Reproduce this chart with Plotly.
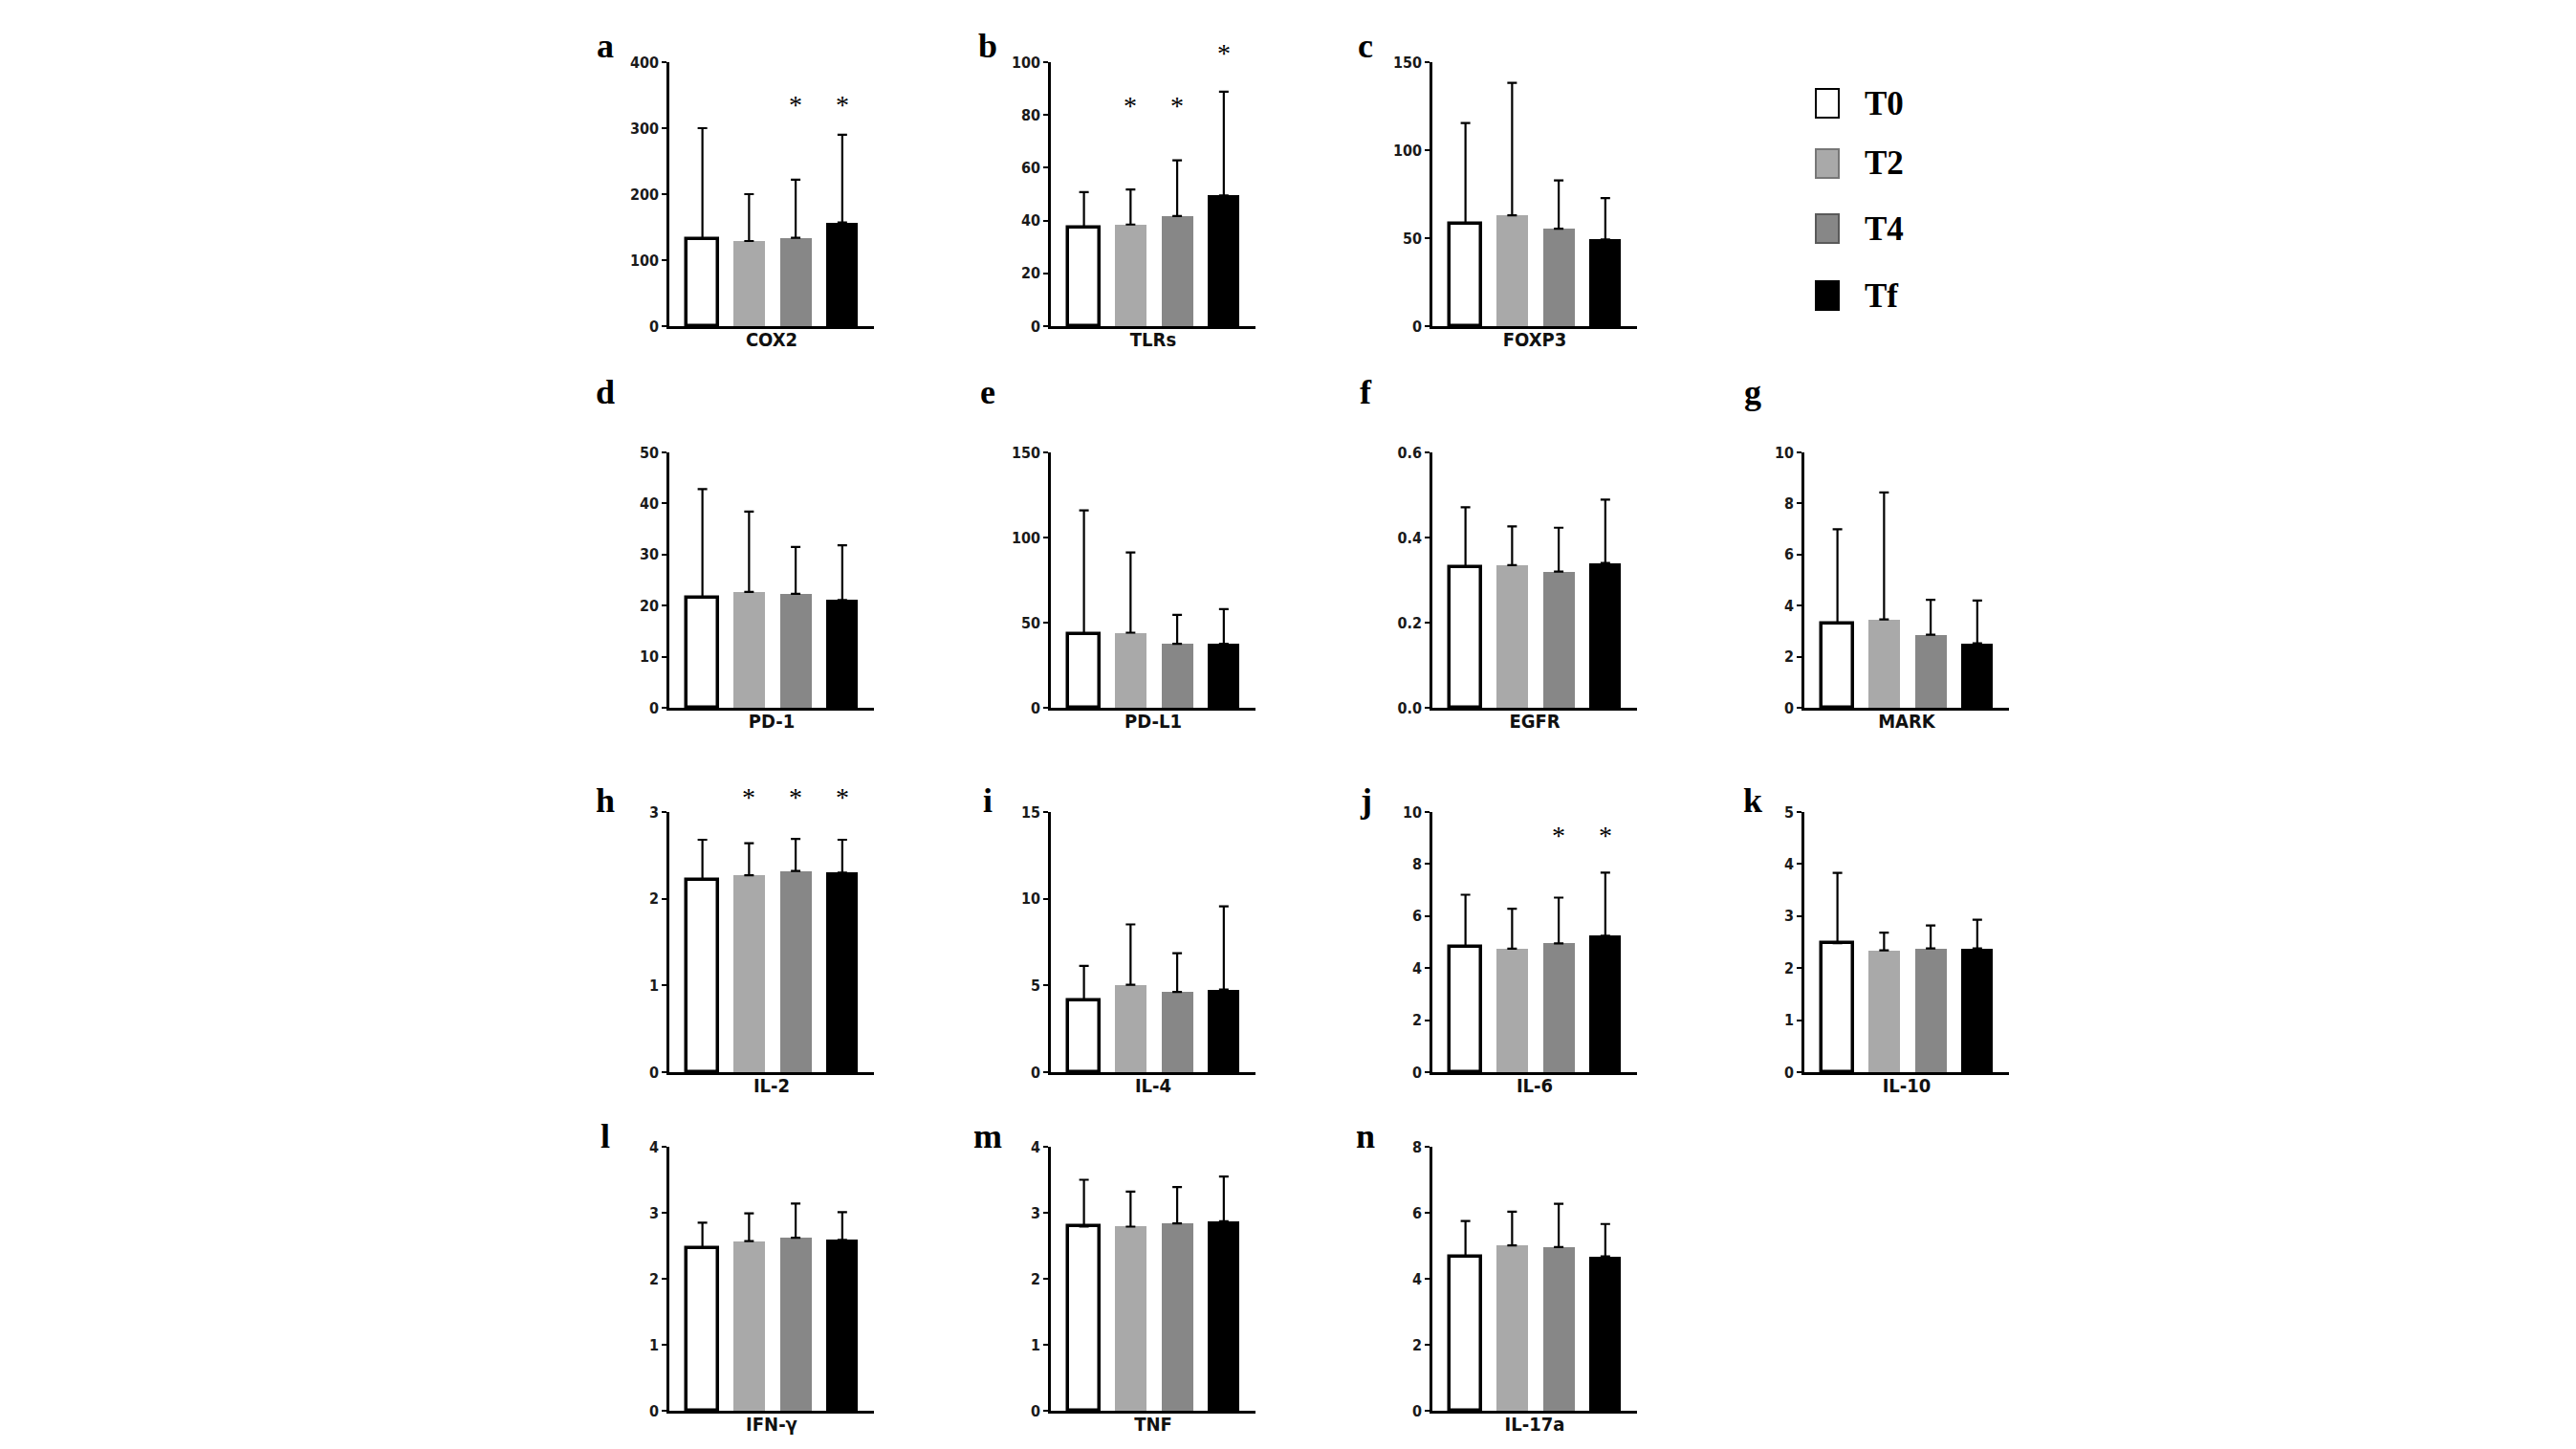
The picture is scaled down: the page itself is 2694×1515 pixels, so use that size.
import plotly.graph_objects as go
import plotly.subplots as ps

# grupos de tempo
tempos = ['T0', 'T2', 'T4', 'Tf']
cores = ['#ffffff', '#a9a9a9', '#878787', '#000000']

# nomes dos marcadores e letras dos painéis
marcadores = ['COX2', 'TLRs', 'FOXP3', 'PD-1', 'PD-L1', 'EGFR', 'MARK',
              'IL-2', 'IL-4', 'IL-6', 'IL-10', 'IFN-γ', 'TNF', 'IL-17a']
letras = ['a', 'b', 'c', 'd', 'e', 'f', 'g', 'h', 'i', 'j', 'k', 'l', 'm', 'n']

# médias
media_cox2 = [132, 129, 134, 157]
media_tlrs = [37.5, 38.5, 41.7, 49.5]
media_foxp3 = [58.2, 63.0, 55.4, 49.2]
media_pd1 = [21.6, 22.7, 22.3, 21.1]
media_pdl1 = [43.4, 44.1, 37.6, 37.6]
media_egfr = [0.331, 0.335, 0.320, 0.340]
media_mark = [3.31, 3.46, 2.86, 2.52]
media_il2 = [2.22, 2.27, 2.32, 2.30]
media_il4 = [4.15, 5.04, 4.63, 4.76]
media_il6 = [4.82, 4.75, 4.95, 5.24]
media_il10 = [2.48, 2.34, 2.38, 2.38]
media_ifng = [2.47, 2.57, 2.62, 2.59]
media_tnf = [2.79, 2.79, 2.84, 2.87]
media_il17a = [4.68, 5.01, 4.96, 4.68]

# desvio padrão (barra de erro só para cima)
dp_cox2 = [168, 71, 88, 133]
dp_tlrs = [13.3, 13.3, 21.1, 39.3]
dp_foxp3 = [57.2, 75.3, 27.4, 23.6]
dp_pd1 = [21.2, 15.7, 9.2, 10.7]
dp_pdl1 = [72.5, 47.1, 17.0, 20.3]
dp_egfr = [0.140, 0.091, 0.103, 0.149]
dp_mark = [3.68, 4.97, 1.37, 1.68]
dp_il2 = [0.46, 0.37, 0.37, 0.38]
dp_il4 = [1.98, 3.48, 2.23, 4.80]
dp_il6 = [2.00, 1.53, 1.76, 2.43]
dp_il10 = [1.35, 0.34, 0.44, 0.55]
dp_ifng = [0.38, 0.42, 0.52, 0.42]
dp_tnf = [0.71, 0.53, 0.55, 0.68]
dp_il17a = [1.07, 1.02, 1.31, 0.98]

# altura dos asteriscos (None = sem asterisco)
ast_cox2 = [None, None, 335, 335]
ast_tlrs = [None, 83.5, 83.5, 103.5]
ast_il2 = [None, 3.17, 3.17, 3.17]
ast_il6 = [None, None, 9.1, 9.1]

# escalas dos eixos y
ticks_cox2 = [0, 100, 200, 300, 400]
ticks_tlrs = [0, 20, 40, 60, 80, 100]
ticks_foxp3 = [0, 50, 100, 150]
ticks_pd1 = [0, 10, 20, 30, 40, 50]
ticks_pdl1 = [0, 50, 100, 150]
ticks_egfr = [0.0, 0.2, 0.4, 0.6]
ticks_mark = [0, 2, 4, 6, 8, 10]
ticks_il2 = [0, 1, 2, 3]
ticks_il4 = [0, 5, 10, 15]
ticks_il6 = [0, 2, 4, 6, 8, 10]
ticks_il10 = [0, 1, 2, 3, 4, 5]
ticks_ifng = [0, 1, 2, 3, 4]
ticks_tnf = [0, 1, 2, 3, 4]
ticks_il17a = [0, 2, 4, 6, 8]

medias = [media_cox2, media_tlrs, media_foxp3, media_pd1, media_pdl1, media_egfr, media_mark,
          media_il2, media_il4, media_il6, media_il10, media_ifng, media_tnf, media_il17a]
dps = [dp_cox2, dp_tlrs, dp_foxp3, dp_pd1, dp_pdl1, dp_egfr, dp_mark,
       dp_il2, dp_il4, dp_il6, dp_il10, dp_ifng, dp_tnf, dp_il17a]
ticks = [ticks_cox2, ticks_tlrs, ticks_foxp3, ticks_pd1, ticks_pdl1, ticks_egfr, ticks_mark,
         ticks_il2, ticks_il4, ticks_il6, ticks_il10, ticks_ifng, ticks_tnf, ticks_il17a]
asteriscos = {0: ast_cox2, 1: ast_tlrs, 7: ast_il2, 9: ast_il6}

# posição de cada painel (linha, coluna)
posicoes = [(1, 1), (1, 2), (1, 3),
            (2, 1), (2, 2), (2, 3), (2, 4),
            (3, 1), (3, 2), (3, 3), (3, 4),
            (4, 1), (4, 2), (4, 3)]

W, H = 2694, 1515
col_esq = [692, 1091, 1490, 1879]
larg = 214
lin_topo = [57, 465, 841, 1191]
lin_base = [333, 732, 1113, 1467]
letra_x = [625, 1025, 1420, 1825]
letra_y = [40, 402, 829, 1180]

fonte_num = 'Liberation Sans Narrow, DejaVu Sans Condensed, Liberation Sans, Arial'
fonte_serif = 'Liberation Serif, Times New Roman, serif'

fig = ps.make_subplots(rows=4, cols=4,
                       specs=[[{}, {}, {}, None],
                              [{}, {}, {}, {}],
                              [{}, {}, {}, {}],
                              [{}, {}, {}, None]])

x_pos = [0, 1, 2, 3]

for k in range(len(marcadores)):
    r, c = posicoes[k]
    sufixo = '' if k == 0 else str(k + 1)
    fig.add_trace(
        go.Bar(
            x=x_pos, y=medias[k], width=0.68,
            marker=dict(color=cores, line=dict(color='black', width=[3.5, 0, 0, 0])),
            error_y=dict(type='data', symmetric=False, array=dps[k], arrayminus=[0, 0, 0, 0],
                         color='black', thickness=2.2, width=5),
            showlegend=False, hoverinfo='skip'
        ),
        row=r, col=c
    )

    # asteriscos de significância (podem ficar acima do topo do eixo)
    if k in asteriscos:
        for i in range(4):
            if asteriscos[k][i] is not None:
                fig.add_annotation(x=x_pos[i], y=asteriscos[k][i] / ticks[k][-1],
                                   xref='x' + sufixo, yref='y' + sufixo + ' domain',
                                   text='*', showarrow=False,
                                   xanchor='center', yanchor='middle',
                                   font=dict(family=fonte_serif, size=28, color='black'))

    x0 = col_esq[c - 1]
    fig.update_xaxes(
        domain=[x0 / W, (x0 + larg) / W],
        range=[-0.71, 3.68], showticklabels=False, ticks='',
        showline=True, linecolor='black', linewidth=2.5,
        showgrid=False, zeroline=False, automargin=False,
        title=dict(text=marcadores[k], standoff=6,
                   font=dict(family=fonte_num, size=20, weight='bold', color='#111')),
        row=r, col=c
    )
    fig.update_yaxes(
        domain=[1 - lin_base[r - 1] / H, 1 - lin_topo[r - 1] / H],
        range=[0, ticks[k][-1]], tickvals=ticks[k],
        tickformat='.1f' if k == 5 else '',
        ticks='outside', ticklen=5, tickwidth=2, tickcolor='black',
        showline=True, linecolor='black', linewidth=2.5,
        showgrid=False, zeroline=False, automargin=False,
        tickfont=dict(family=fonte_num, size=16, weight='bold', color='#1a1a1a'),
        row=r, col=c
    )

    fig.add_annotation(
        x=letra_x[c - 1] / W, y=1 - letra_y[r - 1] / H, xref='paper', yref='paper',
        text=letras[k], showarrow=False, xanchor='center', yanchor='middle',
        font=dict(family=fonte_serif, size=36, weight='bold', color='black')
    )

# legenda manual
leg_y = [100, 163, 231, 301]
leg_borda = ['black', '#777777', '#5a5a5a', 'black']
for i in range(4):
    yc = leg_y[i]
    fig.add_shape(type='rect', xref='paper', yref='paper',
                  x0=1891 / W, x1=1915 / W, y0=1 - (yc + 15) / H, y1=1 - (yc - 15) / H,
                  fillcolor=cores[i], line=dict(color=leg_borda[i], width=2))
    fig.add_annotation(x=1940 / W, y=1 - yc / H, xref='paper', yref='paper',
                       text=tempos[i], showarrow=False, xanchor='left', yanchor='middle',
                       font=dict(family=fonte_serif, size=35, weight='bold', color='black'))

fig.update_layout(
    width=W, height=H,
    margin=dict(l=0, r=0, t=0, b=0),
    paper_bgcolor='white', plot_bgcolor='white',
    bargap=0
)

fig.write_html('out.html')
